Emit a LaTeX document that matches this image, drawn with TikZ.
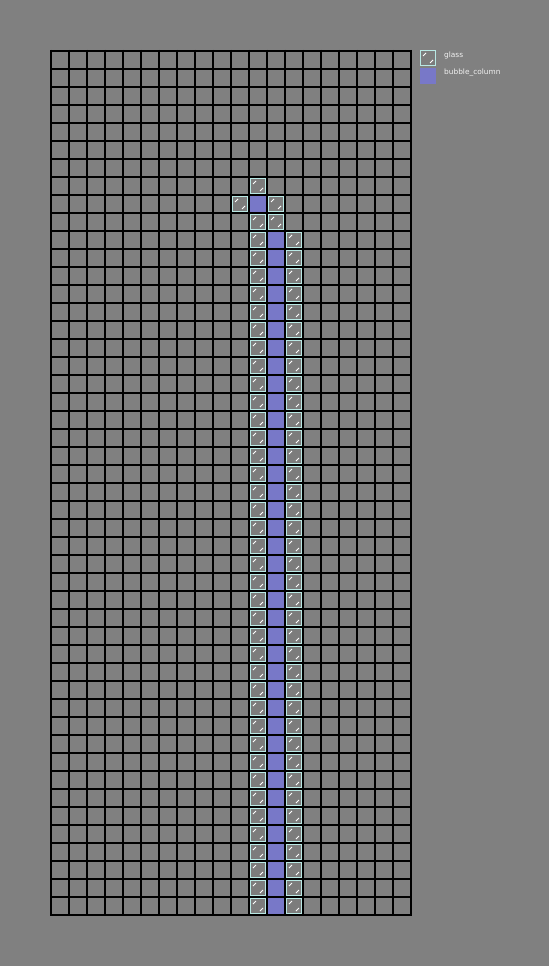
\documentclass[tikz,border=0pt]{standalone}
\usepackage{fontspec}
\setsansfont{DejaVu Sans}
\usepackage{tikz}

\definecolor{bggray}{HTML}{808080}
\definecolor{glassedge}{HTML}{B8E8E4}
\definecolor{glassfill}{HTML}{7C7C7C}
\definecolor{bubblefill}{HTML}{7878C8}

\begin{document}
\begin{tikzpicture}[x=1pt, y=-1pt,
    gridline/.style={line width=2pt, black},
    glassbox/.style={draw=glassedge, fill=glassfill, line width=1pt},
    glassmark/.style={white, line width=0.8pt},
    bubblebox/.style={fill=bubblefill},
    legendtext/.style={anchor=west, inner sep=0pt, text=white!94!black, font=\sffamily\fontsize{7.4}{8}\selectfont},
    glass/.pic={
        \draw[glassbox] (1.5,1.5) rectangle (16.5,16.5);
        \draw[glassmark] (4,7) -- (7,4);
        \draw[glassmark] (11,14) -- (14,11);
    },
    bubble/.pic={
        \fill[bubblebox] (1,1) rectangle (17,17);
    }]
    \fill[bggray] (0,0) rectangle (549,966);
    \useasboundingbox (0,0) rectangle (549,966);

    % grid of 20 x 48 cells
    \foreach \i in {0,...,20}
        \draw[gridline] (51+18*\i, 50) -- (51+18*\i, 916);
    \foreach \j in {0,...,48}
        \draw[gridline] (50, 51+18*\j) -- (412, 51+18*\j);

    % top of the column
    \pic at (249, 177) {glass};
    \pic at (231, 195) {glass};
    \pic at (249, 195) {bubble};
    \pic at (267, 195) {glass};
    \pic at (249, 213) {glass};
    \pic at (267, 213) {glass};

    % the column itself
    \foreach \j in {10,...,47} {
        \pic at (249, 51+18*\j) {glass};
        \pic at (267, 51+18*\j) {bubble};
        \pic at (285, 51+18*\j) {glass};
    }

    % legend
    \pic at (419, 49) {glass};
    \pic at (419, 67) {bubble};
    \node[legendtext] (glasslabel) at (444, 55) {glass};
    \node[legendtext] (bubblelabel) at (444, 73) {bubble\_column};
\end{tikzpicture}
\end{document}
